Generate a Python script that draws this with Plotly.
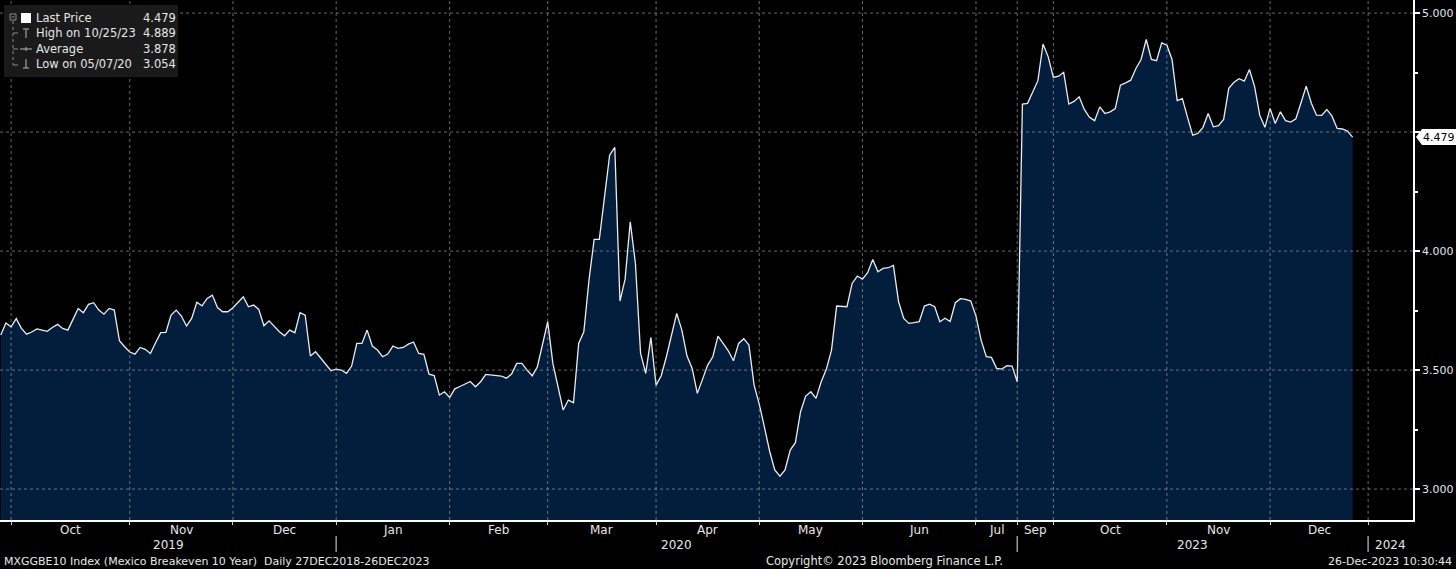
import pandas as pd
import plotly.graph_objects as go

# Mexican market holidays that Bloomberg skips on this series
holidays = ["2019-11-18", "2019-12-12", "2019-12-25", "2020-01-01", "2020-02-03",
            "2020-03-16", "2020-04-09", "2020-04-10", "2020-05-01",
            "2023-11-02", "2023-11-20", "2023-12-12", "2023-12-25", "2024-01-01"]

# trading days shown (the chart jumps from Jul 2020 straight to Sep 2023)
dates_2019_20 = pd.bdate_range("2019-09-26", "2020-07-10", freq="C", holidays=holidays)
dates_2023 = pd.bdate_range("2023-09-21", "2023-12-26", freq="C", holidays=holidays)
axis_tail = pd.bdate_range("2023-12-27", "2024-01-10", freq="C", holidays=holidays)

values_2019_20 = [
    3.647, 3.698, 3.682, 3.716, 3.675, 3.651, 3.660, 3.673, 3.668, 3.663,
    3.679, 3.692, 3.675, 3.668, 3.713, 3.759, 3.741, 3.776, 3.783, 3.752,
    3.735, 3.759, 3.752, 3.623, 3.598, 3.576, 3.567, 3.595, 3.587, 3.570,
    3.615, 3.657, 3.658, 3.731, 3.752, 3.727, 3.685, 3.717, 3.785, 3.770,
    3.801, 3.815, 3.763, 3.745, 3.745, 3.762, 3.785, 3.808, 3.766, 3.773,
    3.755, 3.686, 3.707, 3.682, 3.661, 3.644, 3.668, 3.657, 3.741, 3.731,
    3.559, 3.577, 3.549, 3.521, 3.497, 3.504, 3.500, 3.486, 3.517, 3.612,
    3.612, 3.668, 3.601, 3.584, 3.556, 3.567, 3.601, 3.591, 3.595, 3.609,
    3.618, 3.570, 3.566, 3.483, 3.477, 3.395, 3.409, 3.385, 3.421, 3.431,
    3.441, 3.452, 3.430, 3.451, 3.482, 3.479, 3.478, 3.475, 3.466, 3.483,
    3.528, 3.528, 3.500, 3.476, 3.514, 3.612, 3.703, 3.528, 3.423, 3.332,
    3.374, 3.363, 3.612, 3.661, 3.878, 4.049, 4.049, 4.228, 4.403, 4.436,
    3.790, 3.882, 4.123, 3.948, 3.570, 3.486, 3.637, 3.437, 3.476, 3.556,
    3.654, 3.738, 3.668, 3.559, 3.507, 3.402, 3.461, 3.521, 3.556, 3.643,
    3.612, 3.581, 3.539, 3.612, 3.632, 3.605, 3.437, 3.357, 3.260, 3.160,
    3.080, 3.054, 3.080, 3.164, 3.195, 3.325, 3.391, 3.409, 3.381, 3.451,
    3.503, 3.584, 3.769, 3.769, 3.766, 3.864, 3.895, 3.882, 3.909, 3.965,
    3.913, 3.927, 3.930, 3.940, 3.787, 3.717, 3.696, 3.699, 3.703, 3.769,
    3.777, 3.766, 3.703, 3.718, 3.704, 3.783, 3.800, 3.797, 3.790, 3.727,
    3.626, 3.556, 3.553, 3.507, 3.504, 3.518, 3.517, 3.451,
]
values_2023 = [
    4.618, 4.621, 4.665, 4.716, 4.870, 4.816, 4.730, 4.735, 4.751, 4.618,
    4.629, 4.648, 4.595, 4.562, 4.548, 4.606, 4.578, 4.585, 4.599, 4.697,
    4.707, 4.718, 4.767, 4.805, 4.889, 4.805, 4.800, 4.875, 4.865, 4.805,
    4.632, 4.641, 4.562, 4.487, 4.494, 4.520, 4.578, 4.522, 4.527, 4.553,
    4.684, 4.709, 4.724, 4.714, 4.763, 4.691, 4.571, 4.520, 4.599, 4.536,
    4.585, 4.548, 4.542, 4.556, 4.623, 4.693, 4.621, 4.571, 4.570, 4.595,
    4.567, 4.515, 4.513, 4.504, 4.479,
]

stat_labels = ["Last Price", "High on 10/25/23", "Average", "Low on 05/07/20"]
stat_values = [4.479, 4.889, 3.878, 3.054]

y_ticks = [3.0, 3.5, 4.0, 4.5, 5.0]
y_minor = [3.25, 3.75, 4.25, 4.75]
y_range = [2.870, 5.055]
x_range = [-0.15, 273.7]

title_left = "MXGGBE10 Index (Mexico Breakeven 10 Year)  Daily 27DEC2018-26DEC2023"
title_mid = "Copyright\u00a9 2023 Bloomberg Finance L.P."
title_right = "26-Dec-2023 10:30:44"

# ---------------------------------------------------------------------------
values = values_2019_20 + values_2023
axis_dates = list(dates_2019_20) + list(dates_2023) + list(axis_tail)
x_idx = list(range(len(values)))
data_months = {(d.year, d.month) for d in axis_dates[:len(values)]}

W, H = 1413, 520  # plot area in pixels


def px(x):
    return x / W


def py(y):
    return 1 - y / H


def date_after(a):
    # first trading day of the span that starts at position a
    if a < 0:
        return axis_dates[0]
    return axis_dates[min(int(a) + 1, len(axis_dates) - 1)]


def label(x, y, text, size=11, color="#e6e6e6", xanchor="center", xref="paper",
          yref="paper", **kw):
    return dict(x=x, y=y, xref=xref, yref=yref, text=text, showarrow=False,
                xanchor=xanchor, yanchor="middle",
                font=dict(family=FONT, size=size, color=color), **kw)


# month boundaries sit on the last trading day of the previous month
month_ticks = [k - 1 for k in range(1, len(axis_dates))
               if (axis_dates[k].year, axis_dates[k].month)
               != (axis_dates[k - 1].year, axis_dates[k - 1].month)]
year_ticks = [k - 1 for k in range(1, len(axis_dates))
              if axis_dates[k].year != axis_dates[k - 1].year]

FONT = "DejaVu Sans"
GRID = "rgba(190,190,190,0.55)"

shapes = []
annotations = []

# dotted grid drawn above the area fill
for t in month_ticks:
    shapes.append(dict(type="line", xref="x", yref="paper", x0=t, x1=t, y0=0, y1=1,
                       line=dict(color=GRID, width=1, dash="dot"), layer="above"))
for v in y_ticks:
    shapes.append(dict(type="line", xref="paper", yref="y", x0=0, x1=1, y0=v, y1=v,
                       line=dict(color=GRID, width=1, dash="dot"), layer="above"))

# month labels centred in their spans
bounds = [x_range[0]] + month_ticks + [x_range[1]]
for a, b in zip(bounds[:-1], bounds[1:]):
    d = date_after(a)
    if b - a < 6 or (d.year, d.month) not in data_months:
        continue
    annotations.append(label((a + b) / 2, py(530), d.strftime("%b"), size=12, xref="x"))

# year labels and separators
ybounds = [x_range[0]] + year_ticks + [x_range[1]]
for a, b in zip(ybounds[:-1], ybounds[1:]):
    annotations.append(label((a + b) / 2, py(545), str(date_after(a).year), size=12,
                             xref="x"))
for t in year_ticks:
    shapes.append(dict(type="line", xref="x", yref="paper", x0=t, x1=t,
                       y0=py(536), y1=py(552), line=dict(color="#9a9a9a", width=1.5)))

# legend panel
shapes.append(dict(type="rect", xref="paper", yref="paper", x0=px(4), x1=px(178),
                   y0=py(77), y1=py(5), fillcolor="#1a1a1a", line=dict(width=0),
                   layer="above"))
# tree lines
TREE = "#8a8a8a"
shapes.append(dict(type="rect", xref="paper", yref="paper", x0=px(10), x1=px(16),
                   y0=py(20), y1=py(14), line=dict(color=TREE, width=1), layer="above"))
shapes.append(dict(type="line", xref="paper", yref="paper", x0=px(11.5), x1=px(14.5),
                   y0=py(17), y1=py(17), line=dict(color=TREE, width=1), layer="above"))
shapes.append(dict(type="line", xref="paper", yref="paper", x0=px(13), x1=px(13),
                   y0=py(21), y1=py(65), line=dict(color=TREE, width=1, dash="dot"),
                   layer="above"))
for ry in [33, 49, 65]:
    shapes.append(dict(type="line", xref="paper", yref="paper", x0=px(13), x1=px(18),
                       y0=py(ry), y1=py(ry), line=dict(color=TREE, width=1),
                       layer="above"))
# last price marker square
shapes.append(dict(type="rect", xref="paper", yref="paper", x0=px(21), x1=px(31),
                   y0=py(23), y1=py(13), fillcolor="white", line=dict(width=0),
                   layer="above"))
# high / average / low glyphs
G = "#a0a0a0"
gl = [  # (x0, y0, x1, y1) in pixels
    (23, 29, 29, 29), (26, 29, 26, 38),          # high: T
    (20, 49, 32, 49), (26, 47, 26, 51),          # average: -+-
    (26, 59, 26, 68), (23, 68, 29, 68),          # low: inverted T
]
for x0, y0, x1, y1 in gl:
    shapes.append(dict(type="line", xref="paper", yref="paper", x0=px(x0), x1=px(x1),
                       y0=py(y0), y1=py(y1), line=dict(color=G, width=1.2),
                       layer="above"))

row_y = [18, 33, 49, 64]
for lab, val, ry in zip(stat_labels, stat_values, row_y):
    annotations.append(label(px(34), py(ry), lab, size=11.5, xanchor="left"))
    annotations.append(label(px(141), py(ry), f"{val:.3f}", size=11.5, xanchor="left"))

# last price tag on the right axis
last = stat_values[0]
shapes.append(dict(type="path", xref="paper", yref="y", xsizemode="pixel",
                   ysizemode="pixel", xanchor=1, yanchor=last,
                   path="M 3,0 L 9,8 L 43,8 L 43,-8 L 9,-8 Z",
                   fillcolor="white", line=dict(width=0), layer="above"))
annotations.append(label(1, last, f"{last:.3f}", color="black", xanchor="left",
                         yref="y", xshift=8))

# footer
annotations.append(label(px(2), py(561), title_left, xanchor="left"))
annotations.append(label(px(764), py(561), title_mid, size=11.5, xanchor="left"))
annotations.append(label(px(1454), py(561), title_right, xanchor="right"))

fig = go.Figure(go.Scatter(
    x=x_idx, y=values, mode="lines",
    line=dict(color="#ececec", width=1.3),
    fill="tozeroy", fillcolor="#031d3c",
    hoverinfo="skip",
))

fig.update_layout(
    width=1456, height=569,
    margin=dict(l=0, r=43, t=0, b=49),
    paper_bgcolor="black", plot_bgcolor="black",
    showlegend=False,
    shapes=shapes, annotations=annotations,
    xaxis=dict(range=x_range, tickvals=month_ticks, showticklabels=False,
               ticks="outside", ticklen=3, tickcolor="#cfcfcf",
               showgrid=False, zeroline=False,
               showline=True, linecolor="white", linewidth=1.5),
    yaxis=dict(range=y_range, side="right", tickvals=y_ticks,
               ticktext=[f"{v:.3f}" if v != 4.5 else "" for v in y_ticks],
               ticks="outside", ticklen=5, tickwidth=2, tickcolor="white",
               tickfont=dict(family=FONT, size=11, color="#dfe8f5"),
               minor=dict(tickvals=y_minor, ticks="outside", ticklen=3,
                          tickcolor="white", showgrid=False),
               showgrid=False, zeroline=False,
               showline=True, linecolor="white", linewidth=1.5),
)

# page background black and no body margin so the chart fills the window
fig.write_html("out.html", config={"displayModeBar": False}, post_script=(
    "document.body.style.margin='0';"
    "document.body.style.background='black';"
    "document.body.style.overflow='hidden';"
))
